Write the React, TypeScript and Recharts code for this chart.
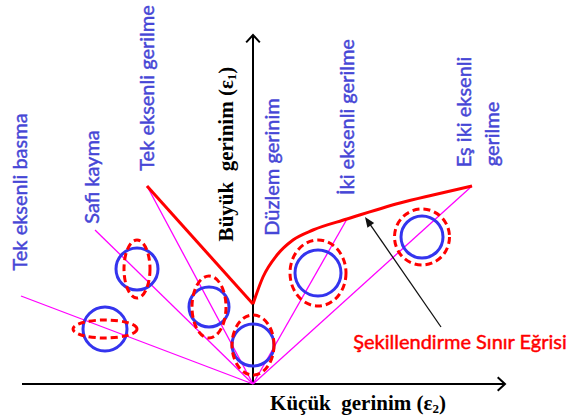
import React from 'react';
import { ComposedChart, XAxis, YAxis, ReferenceLine, Line, Scatter } from 'recharts';

// ---------- data (strain space: ε2 = minor, ε1 = major) ----------
// strain paths, all starting at the origin
const pathNames = ['Tek eksenli basma', 'Safi kayma', 'Tek eksenli gerilme', 'İki eksenli gerilme', 'Eş iki eksenli gerilme'];
const pathEndE2 = [-0.58, -0.395, -0.265, 0.235, 0.5475];
const pathEndE1 = [0.22, 0.385, 0.495, 0.4125, 0.495];

// forming limit curve
const flcLeftE2 = [-0.265, 0];
const flcLeftE1 = [0.495, 0.2];
const flcRightE2 = [0, 0.025, 0.06, 0.1, 0.15, 0.235, 0.3675, 0.45, 0.5475];
const flcRightE1 = [0.2, 0.2675, 0.3225, 0.36, 0.385, 0.4125, 0.4525, 0.4725, 0.495];

// grid circle centres
const circleE2 = [-0.37, -0.29, -0.11, 0, 0.1625, 0.4225];
const circleE1 = [0.1375, 0.2875, 0.1925, 0.0975, 0.2775, 0.3675];

// labels
const labelTexts = ['Tek eksenli basma', 'Safi kayma', 'Tek eksenli gerilme', 'Düzlem gerinim', 'İki eksenli gerilme', 'Eş iki eksenli', 'gerilme'];
const labelE2 = [-0.585, -0.405, -0.2675, 0.045, 0.2325, 0.525, 0.595];
const labelE1 = [0.48, 0.5175, 0.74, 0.5425, 0.6675, 0.68, 0.625];

const flcLabel = 'Şekillendirme Sınır Eğrisi';
const flcLabelE2 = [0.5175];
const flcLabelE1 = [0.1075];
const arrowFrom = { x: 0.47, y: 0.1425 };
const arrowTo = { x: 0.28, y: 0.4175 };

const axisEnds = { xMin: -0.5775, xMax: 0.63, yMax: 0.8725 };
const xTitleE = { x: 0.2625, y: -0.0475 };
const yTitleE = { x: -0.0675, y: 0.575 };

// ---------- layout / style ----------
const W = 568;
const H = 417;
const PX = 400; // px per strain unit
const OX = 253;
const OY = 384;
const BLUE = '#3434EE';
const TEXT_BLUE = '#4646D6';
const RED = '#FF0000';
const PINK = '#FF00FF';
const SANS = "Lato, 'Open Sans', sans-serif";
const circleR = [22, 21, 20, 21, 23, 21];
const ellRx = [32, 13, 17, 21, 28, 27.5];
const ellRy = [9, 29, 31, 30, 33, 28];

const pathSegs = pathEndE2.map((x, i) => ({ name: pathNames[i], x, y: pathEndE1[i] }));
const flcLeft = flcLeftE2.map((x, i) => ({ x, y: flcLeftE1[i] }));
const flcRight = flcRightE2.map((x, i) => ({ x, y: flcRightE1[i] }));
const circles = circleE2.map((x, i) => ({ x, y: circleE1[i], i }));
const labels = labelTexts.map((t, i) => ({ x: labelE2[i], y: labelE1[i], t }));
const flcLabelData = flcLabelE2.map((x, i) => ({ x, y: flcLabelE1[i], t: flcLabel }));
const titles = [
  { x: xTitleE.x, y: xTitleE.y, kind: 'x' },
  { x: yTitleE.x, y: yTitleE.y, kind: 'y' },
];

const axisArrow = (p: any) => {
  const { x1, y1, x2, y2 } = p;
  const a = Math.atan2(y2 - y1, x2 - x1);
  const L = 10;
  const s = 0.75;
  const ax = x2 - L * Math.cos(a - s), ay = y2 - L * Math.sin(a - s);
  const bx = x2 - L * Math.cos(a + s), by = y2 - L * Math.sin(a + s);
  return (
    <g>
      <line x1={x1} y1={y1} x2={x2} y2={y2} stroke="#000" strokeWidth={2} />
      <polyline points={`${ax},${ay} ${x2},${y2} ${bx},${by}`} fill="none" stroke="#000" strokeWidth={2} />
    </g>
  );
};

const pointerArrow = (p: any) => {
  const { x1, y1, x2, y2 } = p;
  const a = Math.atan2(y2 - y1, x2 - x1);
  const L = 11;
  const s = 0.38;
  const ax = x2 - L * Math.cos(a - s), ay = y2 - L * Math.sin(a - s);
  const bx = x2 - L * Math.cos(a + s), by = y2 - L * Math.sin(a + s);
  return (
    <g>
      <line x1={x1} y1={y1} x2={x2 - 8 * Math.cos(a)} y2={y2 - 8 * Math.sin(a)} stroke="#111" strokeWidth={1.3} />
      <polygon points={`${ax},${ay} ${x2},${y2} ${bx},${by}`} fill="#111" />
    </g>
  );
};

const circleShape = (p: any) => {
  const i = p.payload.i;
  return (
    <g>
      <circle cx={p.cx} cy={p.cy} r={circleR[i]} fill="none" stroke={BLUE} strokeWidth={3} />
      <ellipse cx={p.cx} cy={p.cy} rx={ellRx[i]} ry={ellRy[i]} fill="none" stroke={RED} strokeWidth={3} strokeDasharray="7 4" />
    </g>
  );
};

const labelShape = (p: any) => (
  <text
    x={p.cx}
    y={p.cy}
    transform={`rotate(-90 ${p.cx} ${p.cy})`}
    textAnchor="middle"
    dominantBaseline="central"
    fontFamily={SANS}
    fontSize={20}
    fill={TEXT_BLUE}
    stroke={TEXT_BLUE}
    strokeWidth={0.45}
  >
    {p.payload.t}
  </text>
);

const flcLabelShape = (p: any) => (
  <text
    x={p.cx}
    y={p.cy}
    textAnchor="middle"
    dominantBaseline="central"
    fontFamily={SANS}
    fontSize={20}
    fill={RED}
    stroke={RED}
    strokeWidth={0.45}
  >
    {p.payload.t}
  </text>
);

const titleShape = (p: any) => {
  const isY = p.payload.kind === 'y';
  return (
    <text
      x={p.cx}
      y={p.cy}
      transform={isY ? `rotate(-90 ${p.cx} ${p.cy})` : undefined}
      textAnchor="middle"
      dominantBaseline="central"
      fontFamily="'Liberation Serif', 'Times New Roman', serif"
      fontWeight="bold"
      fontSize={21}
      fill="#000"
      style={{ whiteSpace: 'pre' }}
      xmlSpace="preserve"
    >
      {isY ? 'Büyük  gerinim (ε' : 'Küçük  gerinim (ε'}
      <tspan fontSize={13} dy={5}>{isY ? '1' : '2'}</tspan>
      <tspan dy={-5}>)</tspan>
    </text>
  );
};

export default function App() {
  return (
    <div style={{ position: 'absolute', left: 0, top: 0, width: W, height: H, background: '#fff' }}>
      <ComposedChart width={W} height={H} margin={{ top: 0, right: 0, bottom: 0, left: 0 }}>
        <XAxis type="number" dataKey="x" domain={[-OX / PX, (W - OX) / PX]} allowDataOverflow hide />
        <YAxis type="number" dataKey="y" domain={[(OY - H) / PX, OY / PX]} allowDataOverflow hide />

        <ReferenceLine segment={[{ x: axisEnds.xMin, y: 0 }, { x: axisEnds.xMax, y: 0 }]} shape={axisArrow} ifOverflow="visible" />
        <ReferenceLine segment={[{ x: 0, y: 0 }, { x: 0, y: axisEnds.yMax }]} shape={axisArrow} ifOverflow="visible" />

        <Scatter data={circles} shape={circleShape} isAnimationActive={false} />

        {pathSegs.map((s) => (
          <ReferenceLine key={s.name} segment={[{ x: 0, y: 0 }, { x: s.x, y: s.y }]} stroke={PINK} strokeWidth={1.3} ifOverflow="visible" />
        ))}

        <Line data={flcLeft} dataKey="y" type="linear" stroke={RED} strokeWidth={3} dot={false} isAnimationActive={false} />
        <Line data={flcRight} dataKey="y" type="monotone" stroke={RED} strokeWidth={3} dot={false} isAnimationActive={false} />

        <ReferenceLine segment={[arrowFrom, arrowTo]} shape={pointerArrow} ifOverflow="visible" />

        <Scatter data={labels} shape={labelShape} isAnimationActive={false} />
        <Scatter data={flcLabelData} shape={flcLabelShape} isAnimationActive={false} />
        <Scatter data={titles} shape={titleShape} isAnimationActive={false} />
      </ComposedChart>
    </div>
  );
}
